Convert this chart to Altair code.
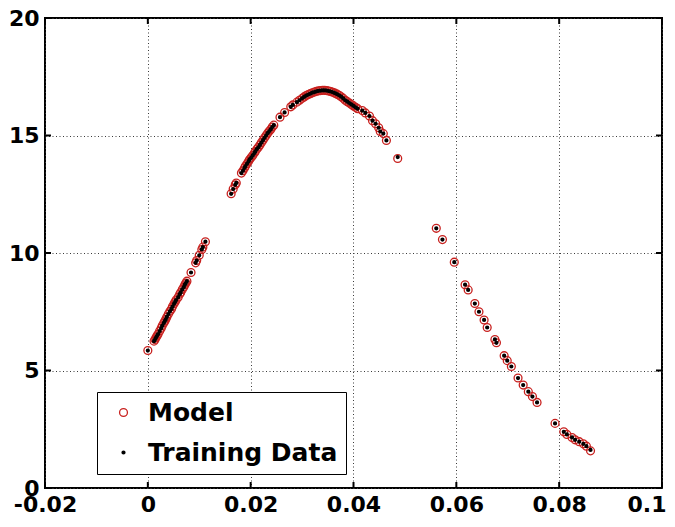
import altair as alt
import pandas as pd

# ---- data ----
x_vals = [
    0.0000, 0.0012, 0.0014, 0.0016, 0.0018, 0.0020, 0.0023, 0.0026, 0.0028, 0.0031,
    0.0033, 0.0035, 0.0037, 0.0040, 0.0043, 0.0046, 0.0048, 0.0051, 0.0053, 0.0055,
    0.0059, 0.0062, 0.0064, 0.0067, 0.0070, 0.0072, 0.0074, 0.0076, 0.0084, 0.0093,
    0.0095, 0.0100, 0.0105, 0.0107, 0.0112,
    0.0162, 0.0166, 0.0170, 0.0172, 0.0182, 0.0185, 0.0188, 0.0190, 0.0193, 0.0196,
    0.0198, 0.0201, 0.0204, 0.0207, 0.0209, 0.0212, 0.0215, 0.0218, 0.0221, 0.0224,
    0.0227, 0.0230, 0.0233, 0.0236, 0.0239, 0.0242, 0.0245, 0.0257, 0.0266, 0.0278,
    0.0282, 0.0290, 0.0295, 0.0300, 0.0304, 0.0308, 0.0312, 0.0316, 0.0320, 0.0324,
    0.0328, 0.0332, 0.0336, 0.0340, 0.0344, 0.0348, 0.0352, 0.0356, 0.0360, 0.0364,
    0.0368, 0.0372, 0.0376, 0.0380, 0.0384, 0.0388, 0.0392, 0.0396, 0.0400, 0.0404,
    0.0408, 0.0417, 0.0423, 0.0431, 0.0437, 0.0443, 0.0449, 0.0452, 0.0458, 0.0464,
    0.0486,
    0.0561, 0.0573, 0.0596, 0.0617, 0.0623, 0.0636, 0.0644, 0.0654, 0.0660, 0.0675,
    0.0678, 0.0693, 0.0699, 0.0707, 0.0720, 0.0730, 0.0740, 0.0748, 0.0757, 0.0792,
    0.0809, 0.0815, 0.0825, 0.0831, 0.0839, 0.0847, 0.0853, 0.0861,
]
train_y = [
    5.85, 6.25, 6.32, 6.40, 6.48, 6.55, 6.68, 6.80, 6.90, 7.02,
    7.10, 7.18, 7.28, 7.40, 7.52, 7.62, 7.72, 7.84, 7.92, 8.00,
    8.12, 8.25, 8.32, 8.45, 8.55, 8.65, 8.72, 8.80, 9.17, 9.58,
    9.68, 9.90, 10.15, 10.25, 10.48,
    12.52, 12.72, 12.90, 12.98, 13.40, 13.50, 13.62, 13.70, 13.80, 13.90,
    13.98, 14.06, 14.15, 14.25, 14.32, 14.42, 14.50, 14.60, 14.70, 14.80,
    14.90, 15.00, 15.10, 15.18, 15.26, 15.36, 15.44, 15.78, 15.98, 16.22,
    16.30, 16.42, 16.50, 16.58, 16.64, 16.70, 16.74, 16.78, 16.82, 16.85,
    16.88, 16.90, 16.91, 16.92, 16.92, 16.91, 16.89, 16.87, 16.84, 16.80,
    16.76, 16.71, 16.65, 16.58, 16.50, 16.44, 16.38, 16.32, 16.26, 16.20,
    16.14, 16.06, 15.96, 15.83, 15.63, 15.50, 15.33, 15.17, 15.08, 14.79,
    14.08,
    11.05, 10.57, 9.61, 8.65, 8.43, 7.85, 7.50, 7.15, 6.83, 6.32,
    6.18, 5.63, 5.42, 5.17, 4.68, 4.38, 4.10, 3.89, 3.64, 2.75,
    2.39, 2.28, 2.15, 2.05, 1.97, 1.88, 1.78, 1.62,
]
# model circles sit on the training dots in the picture
model_y = [
    5.85, 6.25, 6.32, 6.40, 6.48, 6.55, 6.68, 6.80, 6.90, 7.02,
    7.10, 7.18, 7.28, 7.40, 7.52, 7.62, 7.72, 7.84, 7.92, 8.00,
    8.12, 8.25, 8.32, 8.45, 8.55, 8.65, 8.72, 8.80, 9.17, 9.58,
    9.68, 9.90, 10.15, 10.25, 10.48,
    12.52, 12.72, 12.90, 12.98, 13.40, 13.50, 13.62, 13.70, 13.80, 13.90,
    13.98, 14.06, 14.15, 14.25, 14.32, 14.42, 14.50, 14.60, 14.70, 14.80,
    14.90, 15.00, 15.10, 15.18, 15.26, 15.36, 15.44, 15.78, 15.98, 16.22,
    16.30, 16.42, 16.50, 16.58, 16.64, 16.70, 16.74, 16.78, 16.82, 16.85,
    16.88, 16.90, 16.91, 16.92, 16.92, 16.91, 16.89, 16.87, 16.84, 16.80,
    16.76, 16.71, 16.65, 16.58, 16.50, 16.44, 16.38, 16.32, 16.26, 16.20,
    16.14, 16.06, 15.96, 15.83, 15.63, 15.50, 15.33, 15.17, 15.08, 14.79,
    14.02,
    11.05, 10.57, 9.61, 8.65, 8.43, 7.85, 7.50, 7.15, 6.83, 6.32,
    6.18, 5.63, 5.42, 5.17, 4.68, 4.38, 4.10, 3.89, 3.64, 2.75,
    2.39, 2.28, 2.15, 2.05, 1.97, 1.88, 1.78, 1.58,
]
series_names = ["Model", "Training Data"]
x_ticks = [-0.02, 0.0, 0.02, 0.04, 0.06, 0.08, 0.1]
y_ticks = [0, 5, 10, 15, 20]

W, H = 617, 470
FONT = "DejaVu Sans"
RED = "#c8201e"

df = pd.concat([
    pd.DataFrame({"x": x_vals, "y": model_y, "series": series_names[0]}),
    pd.DataFrame({"x": x_vals, "y": train_y, "series": series_names[1]}),
], ignore_index=True)

xscale = alt.Scale(domain=[-0.02, 0.1], nice=False, zero=False)
yscale = alt.Scale(domain=[0, 20], nice=False)

label_expr = "datum.value < 0 ? '-' + format(-datum.value, '~g') : format(datum.value, '~g')"

axis_common = dict(ticks=False, domain=False, grid=True, gridColor="#3a3a3a",
                   gridDash=[1, 2.5], gridWidth=1, labelFlush=False,
                   labelFont=FONT, labelFontSize=22, labelFontWeight="bold",
                   labelColor="black", labelPadding=6)

points = alt.Chart(df).mark_point(filled=False, opacity=1).encode(
    x=alt.X("x:Q", scale=xscale, title=None,
            axis=alt.Axis(values=x_ticks, labelExpr=label_expr,
                          labelAlign={"condition": {"test": "datum.value > 0.09", "value": "right"},
                                      "value": "center"},
                          labelOffset={"condition": {"test": "datum.value > 0.09", "value": 4},
                                       "value": 0},
                          **axis_common)),
    y=alt.Y("y:Q", scale=yscale, title=None,
            axis=alt.Axis(values=y_ticks, **axis_common)),
    color=alt.Color("series:N", scale=alt.Scale(domain=series_names, range=[RED, "black"]),
                    legend=alt.Legend(title=None, orient="none", legendX=52, legendY=374,
                                      fillColor="white", strokeColor="black", padding=8,
                                      symbolOffset=6, labelOffset=12,
                                      labelFont=FONT, labelFontSize=25, labelFontWeight="bold",
                                      labelColor="black", labelLimit=400, rowPadding=14)),
    size=alt.Size("series:N", scale=alt.Scale(domain=series_names, range=[62, 5]),
                  legend=alt.Legend(title=None, orient="none", legendX=52, legendY=374)),
    strokeWidth=alt.StrokeWidth("series:N",
                                scale=alt.Scale(domain=series_names, range=[1.3, 2.0]),
                                legend=alt.Legend(title=None, orient="none", legendX=52, legendY=374)),
)

xt = pd.DataFrame({"v": x_ticks})
yt = pd.DataFrame({"v": y_ticks})
tick_style = dict(color="black", strokeWidth=2)

top_ticks = alt.Chart(xt).mark_rule(**tick_style).encode(
    x=alt.X("v:Q", scale=xscale), y=alt.value(0), y2=alt.value(6))
bottom_ticks = alt.Chart(xt).mark_rule(**tick_style).encode(
    x=alt.X("v:Q", scale=xscale), y=alt.value(H), y2=alt.value(H - 6))
left_ticks = alt.Chart(yt).mark_rule(**tick_style).encode(
    y=alt.Y("v:Q", scale=yscale), x=alt.value(0), x2=alt.value(6))
right_ticks = alt.Chart(yt).mark_rule(**tick_style).encode(
    y=alt.Y("v:Q", scale=yscale), x=alt.value(W), x2=alt.value(W - 6))

chart = alt.layer(points, top_ticks, bottom_ticks, left_ticks, right_ticks).properties(
    width=W, height=H,
    autosize=alt.AutoSizeParams(type="none"),
    padding={"left": 37, "top": 10, "right": 5, "bottom": 31},
    background="white",
).configure_view(stroke="black", strokeWidth=2)

chart.save("out.html", embed_options={"renderer": "svg", "actions": False})
